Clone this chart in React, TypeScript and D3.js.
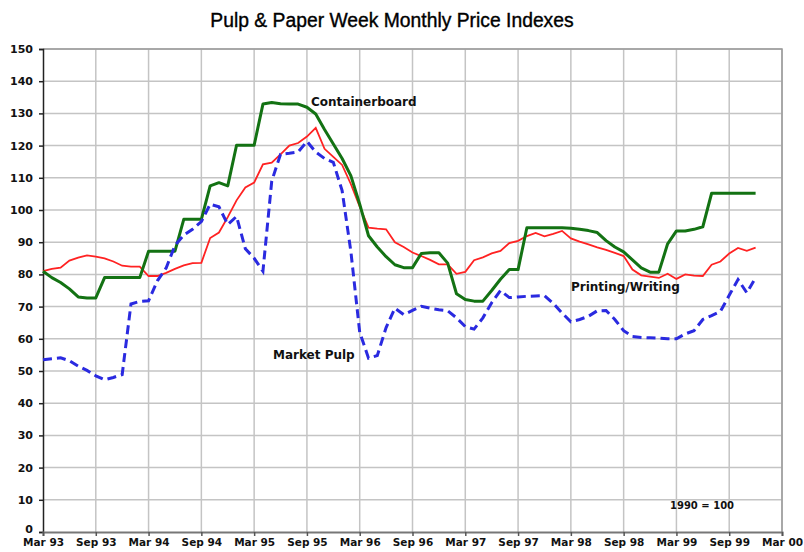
import { useEffect, useRef } from 'react';
import * as d3 from 'd3';

// monthly index values, Mar 93 .. Dec 99 (1990 = 100)
const containerboard = [
  81, 79, 77.5, 75.5, 73, 72.7, 72.7, 79, 79, 79, 79, 79,
  87.2, 87.2, 87.2, 87.2, 97.1, 97.1, 97.1, 107.5, 108.5, 107.5, 120.1, 120.1,
  120.1, 132.9, 133.4, 133, 132.9, 132.9, 131.9, 129.8, 125, 120.5, 116, 110.6,
  101.8, 92, 88.5, 85.5, 83, 82.1, 82.1, 86.5, 86.7, 86.7, 83.5, 74,
  72.2, 71.7, 71.7, 75, 78.5, 81.5, 81.5, 94.5, 94.5, 94.5, 94.5, 94.5,
  94.3, 94, 93.6, 93, 90.5, 88.5, 87, 84.5, 82, 80.7, 80.7, 89.5,
  93.5, 93.5, 94, 94.8, 105.2, 105.2, 105.2, 105.2, 105.2, 105.2
];

const printingWriting = [
  81, 81.7, 82.1, 84.3, 85.2, 85.9, 85.5, 85, 84, 82.7, 82.4, 82.4,
  79.5, 79.5, 80.5, 81.7, 82.8, 83.5, 83.6, 91.3, 93, 97.8, 103, 107,
  108.5, 114.2, 114.7, 117.3, 120, 120.8, 122.8, 125.5, 119, 116.5, 114, 108,
  101, 94.5, 94.2, 94, 90, 88.5, 86.8, 85.7, 84.5, 83.1, 83.1, 80.2,
  80.8, 84.4, 85.3, 86.5, 87.3, 89.7, 90.4, 91.9, 92.9, 91.8, 92.6, 93.5,
  91.2, 90.2, 89.3, 88.4, 87.6, 86.7, 85.7, 81.5, 79.7, 79.3, 78.9, 80.2,
  78.6, 80, 79.6, 79.5, 83, 84, 86.5, 88.2, 87.3, 88.3
];

const marketPulp = [
  53.5, 53.8, 54.1, 53.2, 51.5, 50.2, 48.5, 47.3, 48, 48.9, 70.8, 71.6,
  71.8, 78, 82, 89, 92.2, 94, 96.4, 101.8, 101, 95.5, 98, 88,
  85, 81, 109, 117.3, 117.6, 118, 121.3, 118, 116, 114.8, 106, 87,
  62, 54, 54.8, 63.5, 69.5, 67.5, 68.8, 70.1, 69.5, 69, 68.7, 66.5,
  63.8, 63, 66.5, 71.2, 75, 72.8, 73, 73.2, 73.3, 73.4, 71, 68,
  65.3, 66, 67, 68.7, 68.8, 66, 62.5, 60.7, 60.4, 60.3, 60.2, 60,
  60, 61.5, 62.5, 66, 67.2, 68.5, 73.5, 78.4, 74.3, 79
];

const tickLabels = [
  'Mar 93', 'Sep 93', 'Mar 94', 'Sep 94', 'Mar 95', 'Sep 95', 'Mar 96', 'Sep 96',
  'Mar 97', 'Sep 97', 'Mar 98', 'Sep 98', 'Mar 99', 'Sep 99', 'Mar 00'
];
const yTicks = d3.range(0, 151, 10);

const W = 804;
const H = 552;
const left = 43;
const right = 782;
const top = 49;
const bottom = 532;

export default function App() {
  const svgRef = useRef<SVGSVGElement>(null);

  useEffect(() => {
    if (!svgRef.current) return;
    const svg = d3.select(svgRef.current);
    svg.selectAll('*').remove();

    const x = d3.scaleLinear().domain([0, 84]).range([left, right]);
    const y = d3.scaleLinear().domain([0, 150]).range([bottom, top]);
    const font = '"DejaVu Sans", Verdana, sans-serif';

    svg.append('rect').attr('width', W).attr('height', H).attr('fill', '#fff');

    // title, squeezed a bit like the narrow original
    svg.append('text')
      .attr('transform', 'translate(392,27) scale(0.92,1)')
      .attr('text-anchor', 'middle')
      .attr('font-family', '"Liberation Sans", Arial, sans-serif')
      .attr('font-size', 21)
      .attr('fill', '#000')
      .attr('stroke', '#000')
      .attr('stroke-width', 0.4)
      .text('Pulp & Paper Week Monthly Price Indexes');

    // grid
    const grid = svg.append('g').attr('stroke', '#c4c4c4').attr('stroke-width', 1.5);
    yTicks.filter(t => t > 0).forEach(t => {
      grid.append('line')
        .attr('x1', left).attr('x2', right)
        .attr('y1', y(t)).attr('y2', y(t));
    });
    tickLabels.forEach((_, i) => {
      if (i === 0) return;
      grid.append('line')
        .attr('x1', x(i * 6)).attr('x2', x(i * 6))
        .attr('y1', top).attr('y2', bottom);
    });
    // frame top/right
    svg.append('path')
      .attr('d', `M${left},${top}H${right}V${bottom}`)
      .attr('fill', 'none')
      .attr('stroke', '#9a9a9a')
      .attr('stroke-width', 1.5);

    // y axis
    const yAxis = d3.axisLeft(y).tickValues(yTicks).tickSize(4).tickPadding(6);
    const gy = svg.append('g').attr('transform', `translate(${left},0)`).call(yAxis);
    gy.select('.domain').attr('stroke', '#222').attr('stroke-width', 1.5);
    gy.selectAll('line').attr('stroke', '#222').attr('stroke-width', 1.5);
    gy.selectAll<SVGTextElement, number>('text')
      .attr('font-family', font)
      .attr('font-weight', 'bold')
      .attr('font-size', 11)
      .attr('fill', '#111')
      .attr('dy', d => (d === 0 ? '0.05em' : '0.32em'));

    // x axis
    const xAxis = d3.axisBottom(x)
      .tickValues(tickLabels.map((_, i) => i * 6))
      .tickFormat((_, i) => tickLabels[i])
      .tickSize(4)
      .tickPadding(3);
    const gx = svg.append('g').attr('transform', `translate(0,${bottom})`).call(xAxis);
    gx.select('.domain').attr('stroke', '#777').attr('stroke-width', 2);
    gx.selectAll('line').attr('stroke', '#555').attr('stroke-width', 1.5);
    gx.selectAll('text')
      .attr('font-family', font)
      .attr('font-weight', 'bold')
      .attr('font-size', 10.5)
      .attr('fill', '#111');

    const line = d3.line<number>()
      .x((_, i) => x(i))
      .y(d => y(d));

    svg.append('path')
      .datum(printingWriting)
      .attr('d', line)
      .attr('fill', 'none')
      .attr('stroke', '#ff2222')
      .attr('stroke-width', 1.8);

    svg.append('path')
      .datum(containerboard)
      .attr('d', line)
      .attr('fill', 'none')
      .attr('stroke', '#137213')
      .attr('stroke-width', 3)
      .attr('stroke-linejoin', 'round');

    svg.append('path')
      .datum(marketPulp)
      .attr('d', line)
      .attr('fill', 'none')
      .attr('stroke', '#2a2ae0')
      .attr('stroke-width', 3)
      .attr('stroke-dasharray', '9,5');

    // series labels
    const labels: [string, number, number][] = [
      ['Containerboard', 311, 106],
      ['Printing/Writing', 571, 291],
      ['Market Pulp', 273, 359]
    ];
    labels.forEach(([t, lx, ly]) => {
      svg.append('text')
        .attr('x', lx).attr('y', ly)
        .attr('font-family', font)
        .attr('font-weight', 'bold')
        .attr('font-size', 12)
        .attr('fill', '#111')
        .text(t);
    });

    svg.append('text')
      .attr('x', 670).attr('y', 509)
      .attr('font-family', font)
      .attr('font-weight', 'bold')
      .attr('font-size', 10)
      .attr('fill', '#111')
      .text('1990 = 100');
  }, []);

  return (
    <svg
      ref={svgRef}
      width={W}
      height={H}
      style={{ position: 'absolute', left: 0, top: 0 }}
    />
  );
}
